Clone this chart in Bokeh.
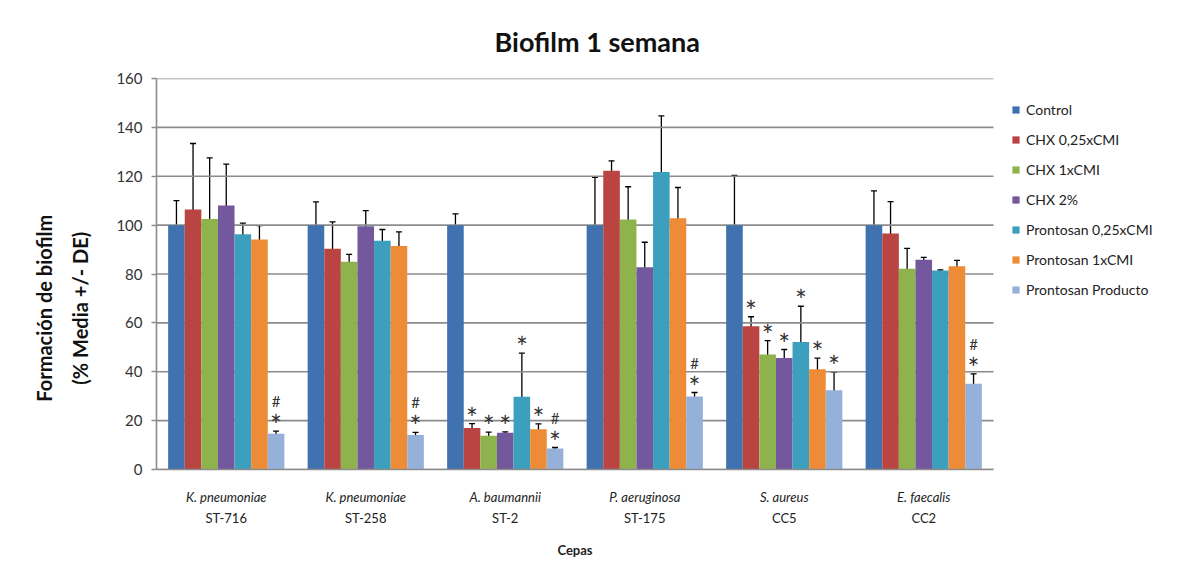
from bokeh.plotting import figure
from bokeh.models import (ColumnDataSource, Whisker, TeeHead, Legend, LegendItem,
                          LinearAxis, FixedTicker, Range1d)
from bokeh.transform import dodge
from bokeh.core.properties import value
from bokeh.embed import file_html
from bokeh.resources import INLINE

# ---------------- data ----------------
species = ["K. pneumoniae", "K. pneumoniae", "A. baumannii", "P. aeruginosa", "S. aureus", "E. faecalis"]
strains = ["ST-716", "ST-258", "ST-2", "ST-175", "CC5", "CC2"]

series_names = ["Control", "CHX 0,25xCMI", "CHX 1xCMI", "CHX 2%",
                "Prontosan 0,25xCMI", "Prontosan 1xCMI", "Prontosan Producto"]

control = [100, 100, 100, 100, 100, 100]
control_sd = [10, 9.5, 4.6, 19.5, 20.3, 14]
chx025 = [106.4, 90.3, 17.0, 122.3, 58.6, 96.6]
chx025_sd = [27, 11, 1.8, 4, 3.9, 13]
chx1 = [102.5, 85.0, 13.8, 102.3, 47.1, 82.1]
chx1_sd = [25, 3, 1.5, 13.4, 5.6, 8.4]
chx2 = [108.0, 99.5, 15.0, 82.8, 45.6, 85.8]
chx2_sd = [17, 6.4, 0.4, 10.2, 3.5, 1.0]
pront025 = [96.3, 93.6, 29.8, 121.7, 52.2, 81.4]
pront025_sd = [4.5, 4.6, 17.8, 23, 14.6, 0.3]
pront1 = [94.1, 91.5, 16.5, 102.8, 41.0, 83.2]
pront1_sd = [5.7, 5.7, 2.2, 12.6, 4.6, 2.4]
prontprod = [14.6, 14.1, 8.6, 29.9, 32.4, 35.1]
prontprod_sd = [1.1, 1.1, 0.4, 1.6, 7.5, 4.0]

marks_control = ["", "", "", "", "", ""]
marks_chx025 = ["", "", "*", "", "*", ""]
marks_chx1 = ["", "", "*", "", "*", ""]
marks_chx2 = ["", "", "*", "", "*", ""]
marks_pront025 = ["", "", "*", "", "*", ""]
marks_pront1 = ["", "", "*", "", "*", ""]
marks_prontprod = ["#*", "#*", "#*", "#*", "*", "#*"]

y_ticks = [0, 20, 40, 60, 80, 100, 120, 140, 160]

colors = ["#3F72AF", "#BA4442", "#8FB34C", "#73589D", "#3C9FBD", "#EE8B37", "#95B1DA"]

series = [
    (control, control_sd, marks_control),
    (chx025, chx025_sd, marks_chx025),
    (chx1, chx1_sd, marks_chx1),
    (chx2, chx2_sd, marks_chx2),
    (pront025, pront025_sd, marks_pront025),
    (pront1, pront1_sd, marks_pront1),
    (prontprod, prontprod_sd, marks_prontprod),
]

FONT = "Lato"
GRID = "#8c8c8c"
positions = list(range(1, len(species) + 1))
ngroups = len(species)

# layout constants (pixels)
W, H = 1175, 570
LEFT, TOP, BOTTOM = 156, 78, 101
GROUP_PX = 139.5
frame_w = W - LEFT
x_end = 0.5 + frame_w / GROUP_PX          # extra room on the right holds the legend
x_mid = (ngroups + 1) / 2                 # centre of the category area
y_title_pos = 66                          # vertical centre of the y title (in axis units)

p = figure(width=W, height=H, x_range=Range1d(0.5, x_end),
           y_range=Range1d(y_ticks[0], y_ticks[-1]), output_backend="svg", toolbar_location=None,
           min_border_left=LEFT, min_border_top=TOP, min_border_right=0, min_border_bottom=BOTTOM,
           background_fill_color="white", border_fill_color="white", x_axis_location=None)
p.outline_line_color = None

p.title.text = "Biofilm 1 semana"
p.title.text_font = FONT
p.title.text_font_size = "27px"
p.title.text_font_style = "bold"
p.title.text_color = "#111111"
p.title.align = "left"
p.title.offset = 338
p.title.standoff = 42

p.xgrid.grid_line_color = None
p.ygrid.grid_line_color = None
# horizontal gridlines over the category area only
p.segment(x0=0.5, x1=ngroups + 0.5, y0=y_ticks, y1=y_ticks, line_color=GRID, line_width=1.6)

ya = p.yaxis[0]
ya.ticker = FixedTicker(ticks=y_ticks)
ya.axis_line_color = GRID
ya.axis_line_width = 1.6
ya.major_tick_line_color = GRID
ya.major_tick_line_width = 1.4
ya.major_tick_out = 5
ya.major_tick_in = 0
ya.minor_tick_line_color = None
ya.major_label_text_font = FONT
ya.major_label_text_font_size = "15px"
ya.major_label_text_color = "#333333"
ya.major_label_standoff = 9


def title_axis(text, standoff, side, orientation, size, ticks):
    ax = LinearAxis(ticker=FixedTicker(ticks=ticks),
                    major_label_overrides={t: text for t in ticks})
    ax.axis_line_color = None
    ax.major_tick_line_color = None
    ax.minor_tick_line_color = None
    ax.major_tick_out = 0
    ax.major_tick_in = 0
    ax.major_label_standoff = standoff
    ax.major_label_orientation = orientation
    ax.major_label_text_font = FONT
    ax.major_label_text_font_size = size
    ax.major_label_text_font_style = "bold"
    ax.major_label_text_color = "#111111"
    p.add_layout(ax, side)
    return ax


# y title: two lines, inner line first
title_axis("(% Media +/- DE)", 21, "left", "vertical", "20px", [y_title_pos])
title_axis("Formación de biofilm", 9, "left", "vertical", "20px", [y_title_pos])

# bottom axes: species (italic) and strain (normal)
ax1 = LinearAxis(ticker=FixedTicker(ticks=positions), bounds=(0.5, ngroups + 0.5),
                 major_label_overrides={k: s for k, s in zip(positions, species)})
ax1.axis_line_color = GRID
ax1.axis_line_width = 1.6
ax1.major_tick_line_color = None
ax1.major_tick_out = 0
ax1.major_tick_in = 0
ax1.minor_tick_line_color = None
ax1.major_label_text_font = FONT
ax1.major_label_text_font_size = "13px"
ax1.major_label_text_font_style = "italic"
ax1.major_label_text_color = "#222222"
ax1.major_label_standoff = 19
p.add_layout(ax1, "below")

ax2 = LinearAxis(ticker=FixedTicker(ticks=positions), bounds=(0.5, ngroups + 0.5),
                 major_label_overrides={k: s for k, s in zip(positions, strains)})
ax2.axis_line_color = None
ax2.major_tick_line_color = None
ax2.major_tick_out = 0
ax2.major_tick_in = 0
ax2.minor_tick_line_color = None
ax2.major_label_text_font = FONT
ax2.major_label_text_font_size = "13px"
ax2.major_label_text_color = "#222222"
ax2.major_label_standoff = 2
p.add_layout(ax2, "below")

cep = title_axis("Cepas", 13, "below", "horizontal", "13px", [x_mid])
cep.major_label_text_color = "#222222"

n = len(series)
bw = 0.119
items = []
for i, ((vals, sds, marks), name, col) in enumerate(zip(series, series_names, colors)):
    off = (i - (n - 1) / 2) * bw
    src = ColumnDataSource(dict(
        pos=positions, val=vals,
        upper=[v + s for v, s in zip(vals, sds)],
        lower=[v - s for v, s in zip(vals, sds)],
        star=["*" if "*" in m else "" for m in marks],
        hash=["#" if "#" in m else "" for m in marks],
    ))
    r = p.vbar(x=dodge("pos", off), top="val", width=bw, source=src, fill_color=col, line_color=None)
    items.append(LegendItem(label=name, renderers=[r]))
    w = Whisker(base=dodge("pos", off), upper="upper", lower="lower", source=src,
                line_color="black", line_width=1.3,
                upper_head=TeeHead(size=6, line_color="black", line_width=1.3),
                lower_head=TeeHead(size=6, line_color="black", line_width=1.3))
    p.add_layout(w)
    p.text(x=dodge("pos", off), y="upper", text="star", source=src,
           text_font=value(FONT), text_font_size="28px", text_align="center",
           text_baseline="middle", y_offset=-6, text_color="#333333")
    p.text(x=dodge("pos", off), y="upper", text="hash", source=src,
           text_font=value(FONT), text_font_size="15px", text_align="center",
           text_baseline="middle", y_offset=-30, text_color="#333333")

legend = Legend(items=items, location=(855, 170), margin=0, padding=0,
                border_line_color=None, background_fill_alpha=0,
                glyph_width=9, glyph_height=9, label_height=20, spacing=10,
                label_standoff=6, label_text_font=FONT, label_text_font_size="14px",
                label_text_color="#222222")
p.add_layout(legend)

open("out.html", "w").write(file_html(p, INLINE))
